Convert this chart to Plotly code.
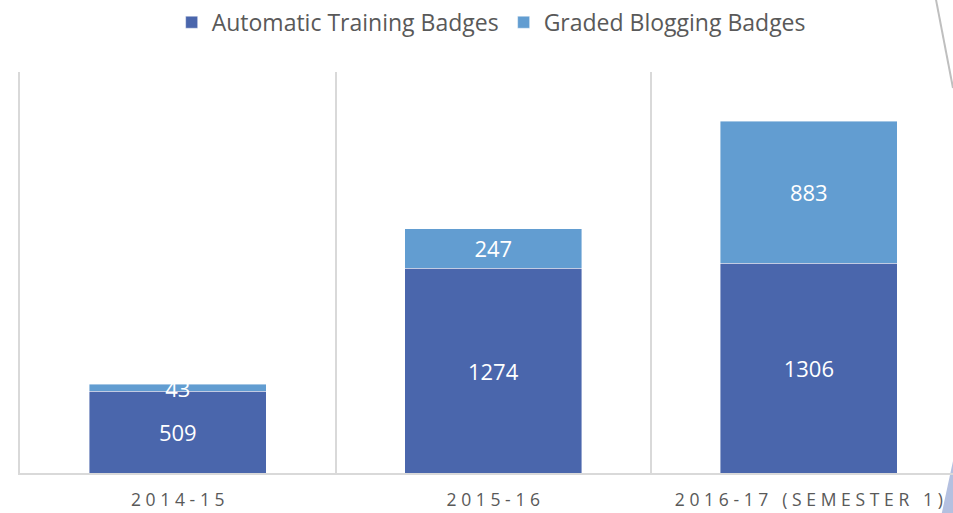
import plotly.graph_objects as go

# data
years = ["2014-15", "2015-16", "2016-17 (SEMESTER 1)"]
automatic_training = [509, 1274, 1306]
graded_blogging = [43, 247, 883]

# thin + hair space, to imitate the letter-spaced axis labels
GAP = "\u2009\u200a"


def spaced(label):
    return GAP.join(label)


dark_blue = "#4A66AC"
light_blue = "#629DD1"
grey_text = "#595959"
grid_grey = "#d9d9d9"

fig = go.Figure()
for name, vals, col in [("Automatic Training Badges", automatic_training, dark_blue),
                        ("Graded Blogging Badges", graded_blogging, light_blue)]:
    fig.add_trace(go.Bar(
        x=years, y=vals, name=name,
        marker=dict(color=col, line=dict(color="rgba(255,255,255,0.6)", width=0.7)),
        text=vals, textposition="inside", insidetextanchor="middle",
        textangle=0, constraintext="none",
        textfont=dict(color="white", size=22),
        hoverinfo="none",
    ))

# slide decoration at the right edge
shapes = [
    dict(type="line", xref="paper", yref="paper", x0=0.9818, y0=1.18, x1=1.0, y1=0.96,
         line=dict(color="#bfbfbf", width=2)),
    dict(type="path", xref="paper", yref="paper", layer="below",
         path="M 1.0,0.03 L 0.988,-0.1 L 1.0,-0.1 Z",
         fillcolor="#b4c0e0", line=dict(width=0)),
]

fig.update_layout(
    barmode="stack",
    bargap=0.44,
    width=953, height=513,
    margin=dict(l=20, r=0, t=72, b=40),
    plot_bgcolor="white", paper_bgcolor="white",
    font=dict(family="Open Sans", color=grey_text),
    showlegend=True,
    legend=dict(orientation="h", x=0.505, xanchor="center", y=1.124, yanchor="middle",
                font=dict(size=23, color=grey_text), traceorder="normal"),
    xaxis=dict(
        range=[-0.5, 2.457],
        tickmode="array", tickvals=years, ticktext=[spaced(y) for y in years],
        tickson="boundaries", ticks="", showgrid=True, gridcolor=grid_grey, gridwidth=1.5,
        showline=True, linecolor=grid_grey, linewidth=1.5,
        tickfont=dict(size=17.5, color=grey_text), ticklabelstandoff=10,
    ),
    yaxis=dict(range=[0, 2495], showticklabels=False, showgrid=False, zeroline=False,
               showline=True, linecolor=grid_grey, linewidth=1.5, ticks=""),
    shapes=shapes,
)

# drop the default body margin so the 953x513 figure fills the window exactly
fig.write_html("out.html", config={"displayModeBar": False},
               post_script="document.body.style.margin='0';document.body.style.overflow='hidden';")
